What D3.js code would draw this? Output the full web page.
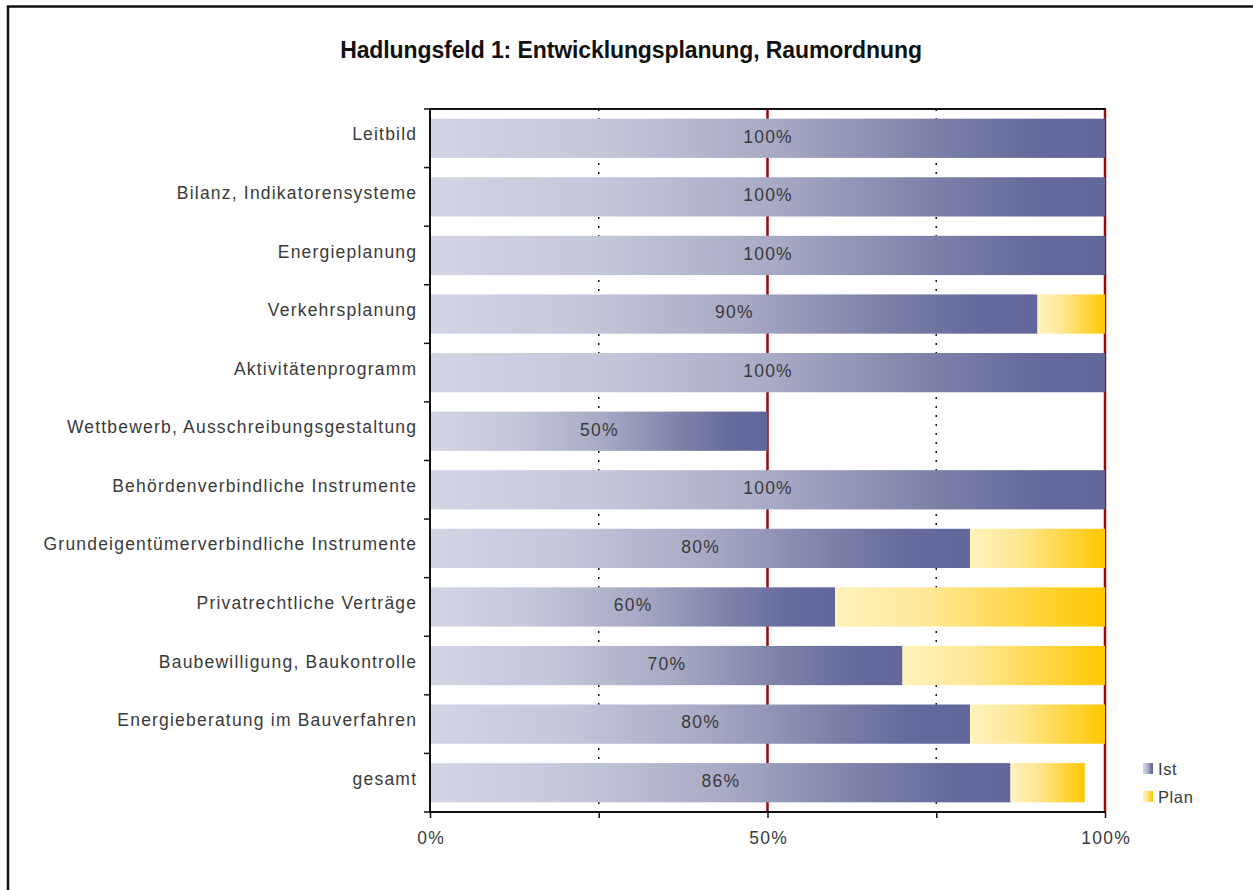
<!DOCTYPE html>
<html><head><meta charset="utf-8">
<script src="https://cdn.jsdelivr.net/npm/d3@7/dist/d3.min.js"></script>
<style>body{margin:0;background:#fff}svg{display:block}</style>
</head><body><svg id="c" width="1253" height="890"></svg>
<script>
const title = "Hadlungsfeld 1: Entwicklungsplanung, Raumordnung";
const categories = ["Leitbild","Bilanz, Indikatorensysteme","Energieplanung","Verkehrsplanung","Aktivitätenprogramm","Wettbewerb, Ausschreibungsgestaltung","Behördenverbindliche Instrumente","Grundeigentümerverbindliche Instrumente","Privatrechtliche Verträge","Baubewilligung, Baukontrolle","Energieberatung im Bauverfahren","gesamt"];
const ist = [100,100,100,90,100,50,100,80,60,70,80,86];
const plan = [0,0,0,10,0,0,0,20,40,30,20,11];
const xTicks = [0,25,50,75,100];
const xTickLabels = ["0%","","50%","","100%"];
const seriesNames = ["Ist","Plan"];

const svg = d3.select("#c");
const font = "'Liberation Sans', Arial, sans-serif";
const fs = 17.5, ls = 1.2, txt = "#3a3a3a";
const defs = svg.append("defs");
const gi = defs.append("linearGradient").attr("id","gIst").attr("x1","0").attr("x2","1").attr("y1","0").attr("y2","0");
[[0,"#d3d5e5"],[0.25,"#c5c7da"],[0.5,"#a9abc6"],[0.75,"#7c80a8"],[0.9,"#65699b"],[1,"#62679a"]].forEach(s=>gi.append("stop").attr("offset",s[0]).attr("stop-color",s[1]));
const gp = defs.append("linearGradient").attr("id","gPlan").attr("x1","0").attr("x2","1").attr("y1","0").attr("y2","0");
[[0,"#fff2bd"],[0.35,"#ffe896"],[0.75,"#ffd43a"],[1,"#ffc800"]].forEach(s=>gp.append("stop").attr("offset",s[0]).attr("stop-color",s[1]));

// frame
svg.append("path").attr("d","M8,890 V6.5 H1253").attr("fill","none").attr("stroke","#111").attr("stroke-width",2.5);

const x = d3.scaleLinear().domain([0,100]).range([430,1105]);
const y = d3.scaleBand().domain(categories).range([109,812]).paddingInner(0.33).paddingOuter(0.165);

svg.append("text").attr("x",631).attr("y",58).attr("text-anchor","middle")
  .attr("font-family",font).attr("font-weight","bold").attr("font-size",23).attr("letter-spacing",-0.1).attr("fill","#111").text(title);

// gridlines
const grid = svg.append("g");
xTicks.filter(t=>t===25||t===75).forEach(t=>{
  grid.append("line").attr("x1",x(t)).attr("x2",x(t)).attr("y1",109).attr("y2",812)
    .attr("stroke","#111").attr("stroke-width",1.5).attr("stroke-dasharray","2,7");
});
xTicks.filter(t=>t===50||t===100).forEach(t=>{
  grid.append("line").attr("x1",x(t)).attr("x2",x(t)).attr("y1",109).attr("y2",812)
    .attr("stroke","#9a0a0a").attr("stroke-width",2.5);
});

// bars
const bars = svg.append("g");
categories.forEach((c,i)=>{
  bars.append("rect").attr("x",x(0)).attr("y",y(c)).attr("width",x(ist[i])-x(0)).attr("height",y.bandwidth()).attr("fill","url(#gIst)");
  if(plan[i]>0) bars.append("rect").attr("x",x(ist[i])).attr("y",y(c)).attr("width",x(ist[i]+plan[i])-x(ist[i])).attr("height",y.bandwidth()).attr("fill","url(#gPlan)");
  bars.append("text").attr("x",x(ist[i]/2)+ls/2).attr("y",y(c)+y.bandwidth()/2-2).attr("dy","0.36em")
    .attr("text-anchor","middle").attr("font-family",font).attr("font-size",fs).attr("letter-spacing",ls).attr("fill",txt).text(ist[i]+"%");
});

// axes
const yAxis = d3.axisLeft(y).tickSize(0).tickPadding(14-ls);
const ya = svg.append("g").attr("transform","translate(430,0)").call(yAxis);
ya.select(".domain").remove();
ya.selectAll("text").attr("font-family",font).attr("font-size",fs).attr("letter-spacing",ls).attr("fill",txt).attr("dy","0.12em");
// band boundary ticks
const bounds = categories.map(c=>y(c)-y.step()*y.paddingInner()/2).concat([812]);
bounds[0]=109;
svg.append("g").selectAll("line").data(bounds).join("line").attr("x1",424).attr("x2",430).attr("y1",d=>d).attr("y2",d=>d).attr("stroke","#111").attr("stroke-width",1.5);

const xAxis = d3.axisBottom(x).tickValues(xTicks).tickSize(6).tickFormat((d,i)=>xTickLabels[i]).tickPadding(14);
const xa = svg.append("g").attr("transform","translate(0,812)").call(xAxis);
xa.select(".domain").remove();
xa.selectAll("line").attr("stroke","#111").attr("stroke-width",1.5);
xa.selectAll("text").attr("font-family",font).attr("font-size",fs).attr("letter-spacing",ls).attr("dx",ls/2).attr("fill",txt);

// frame lines of plot
svg.append("line").attr("x1",430).attr("x2",430).attr("y1",109).attr("y2",812).attr("stroke","#111").attr("stroke-width",2);
svg.append("line").attr("x1",429).attr("x2",1106).attr("y1",109).attr("y2",109).attr("stroke","#111").attr("stroke-width",2);
svg.append("line").attr("x1",429).attr("x2",1106).attr("y1",812).attr("y2",812).attr("stroke","#111").attr("stroke-width",2);

// legend
const lg = svg.append("g").attr("transform","translate(1143,763)");
seriesNames.forEach((n,i)=>{
  lg.append("rect").attr("x",0).attr("y",i*28).attr("width",10).attr("height",11).attr("fill",i===0?"url(#gIst)":"url(#gPlan)");
  lg.append("text").attr("x",15).attr("y",i*28+6).attr("dy","0.36em").attr("font-family",font).attr("font-size",fs-1).attr("letter-spacing",0.6).attr("fill",txt).text(n);
});
</script></body></html>
